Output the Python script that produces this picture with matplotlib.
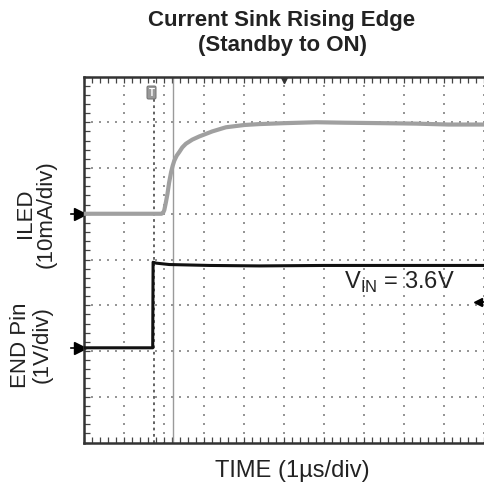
import numpy as np
import matplotlib
matplotlib.use("Agg")
import matplotlib.pyplot as plt

# ---- data (divisions: x 0..10, y 0..8) ----
t_iled = [0, 1.93, 1.97, 2.0, 2.04, 2.08, 2.12, 2.17, 2.21, 2.25, 2.31, 2.375, 2.45, 2.54,
          2.7, 2.875, 3.2, 3.54, 4.0, 4.375, 5.0, 5.8, 6.5, 7.45, 8.3, 9.1, 10]
iled = [5.0, 5.0, 5.02, 5.08, 5.25, 5.44, 5.68, 5.91, 6.05, 6.16, 6.27, 6.35, 6.45, 6.53,
        6.62, 6.69, 6.80, 6.89, 6.94, 6.96, 6.98, 7.0, 6.99, 6.98, 6.97, 6.95, 6.95]
t_end = [0, 1.71, 1.72, 1.8, 2.125, 3.125, 4.375, 6, 8, 10]
end_pin = [2.07, 2.07, 3.94, 3.92, 3.89, 3.87, 3.86, 3.87, 3.87, 3.87]
trigger_t = 1.73
cursor_t = 2.21
iled_ground = 5.0
end_ground = 2.07
trig_level = 3.07
title = "Current Sink Rising Edge\n(Standby to ON)"
xlabel = "TIME (1\u00b5s/div)"
vin_text = r"V$_{\mathregular{IN}}$ = 3.6V"

W, H = 484, 487
plt.rcParams['font.family'] = ['Liberation Sans', 'DejaVu Sans']
fig = plt.figure(figsize=(W / 100, H / 100), dpi=100)

def fx(px):
    return px / W

def fy(py):
    return 1 - py / H

left_px, right_px, top_px, bot_px = 84.3, 484.3, 76.5, 442.5
ax = fig.add_axes([fx(left_px), fy(bot_px), (right_px - left_px) / W, (bot_px - top_px) / H])
ax.set_xlim(0, 10)
ax.set_ylim(0, 8)

# grid dots
gx, gy = [], []
for xi in range(1, 11):
    for yv in np.arange(0, 8.001, 0.2):
        gx.append(xi); gy.append(yv)
for yi in range(1, 8):
    for xv in np.arange(0, 10.001, 0.2):
        gx.append(xv); gy.append(yi)
ax.scatter(gx, gy, s=1.6, marker='s', color='#969696', linewidths=0, zorder=1)

# cursors
ax.axvline(trigger_t, color='#555555', lw=1.3, ls=(0, (1.5, 2)), zorder=2)
ax.axvline(cursor_t, color='#9a9a9a', lw=1.0, zorder=2)

# traces
ax.plot(t_iled, iled, color='#a0a0a0', lw=3.0, solid_joinstyle='round', zorder=3)
ax.plot(t_end, end_pin, color='#111111', lw=2.2, zorder=4)

# frame
for s in ['left', 'top', 'bottom']:
    ax.spines[s].set_linewidth(1.8)
    ax.spines[s].set_color('#333333')
ax.spines['right'].set_visible(False)
ax.set_xticks(np.arange(0, 10.01, 0.2))
ax.set_yticks(np.arange(0, 8.01, 0.2))
ax.tick_params(axis='both', which='both', direction='in', length=4, width=0.9,
               color='#444444', top=True, bottom=True, left=True, right=False,
               labelbottom=False, labelleft=False)

# markers
ax.plot([-0.33, -0.12], [iled_ground, iled_ground], color='black', lw=1.2, clip_on=False)
ax.plot([-0.12], [iled_ground], marker='>', color='black', ms=8, clip_on=False)
ax.plot([-0.33, -0.12], [end_ground, end_ground], color='black', lw=1.2, clip_on=False)
ax.plot([-0.12], [end_ground], marker='>', color='black', ms=8, clip_on=False)
ax.plot([9.85], [trig_level], marker='<', color='black', ms=6, clip_on=False, zorder=5)
ax.plot([9.85, 10.0], [trig_level, trig_level], color='black', lw=1.2, clip_on=False)
ax.plot([5.0], [7.93], marker='v', color='#333333', ms=5, zorder=5)
ax.text(trigger_t - 0.05, 7.65, "T", ha='center', va='center', fontsize=7, color='white',
        fontweight='bold',
        bbox=dict(boxstyle='round,pad=0.15', fc='#999999', ec='#777777', lw=0.8), zorder=6)

# texts
fig.text(fx(282), fy(33), title, ha='center', va='center', fontsize=16,
         fontweight='bold', color='#222222', linespacing=1.2)
fig.text(fx(292), fy(476.7), xlabel, ha='center', va='baseline', fontsize=17, color='#222222')
ax.text(6.5, 3.35, vin_text, ha='left', va='baseline', fontsize=17, color='#222222')

fig.text(fx(31), fy(213), "ILED", rotation=90, rotation_mode='anchor', ha='center',
         va='baseline', fontsize=16, color='#222222')
fig.text(fx(52), fy(214), "(10mA/div)", rotation=90, rotation_mode='anchor', ha='center',
         va='baseline', fontsize=16, color='#222222')
fig.text(fx(26), fy(345), "END Pin", rotation=90, rotation_mode='anchor', ha='center',
         va='baseline', fontsize=16, color='#222222')
fig.text(fx(48), fy(345), "(1V/div)", rotation=90, rotation_mode='anchor', ha='center',
         va='baseline', fontsize=16, color='#222222')

fig.savefig("out.png", dpi=100)
